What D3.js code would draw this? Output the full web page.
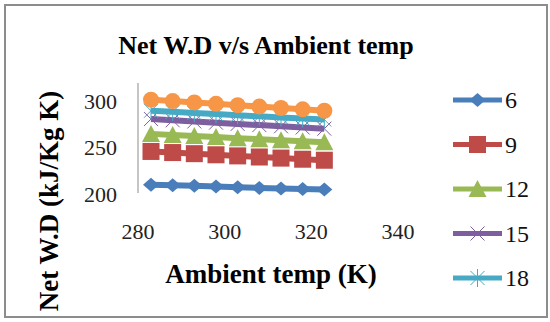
<!DOCTYPE html>
<html>
<head>
<meta charset="utf-8">
<script src="https://cdn.jsdelivr.net/npm/d3@7"></script>
<style>
  body { margin: 0; background: #fff; }
  svg { display: block; }
  svg text { font-family: "Liberation Serif", "Times New Roman", serif; }
</style>
</head>
<body>
<svg id="chart" width="550" height="322"></svg>
<script>
// ambient temperature (K)
var temps = [283, 288, 293, 298, 303, 308, 313, 318, 323];

// series names (legend) – the sixth one is clipped off in the legend
var seriesNames = ["6", "9", "12", "15", "18", "21"];

var s6  = [210, 209.5, 208.8, 208, 207.3, 206.6, 206, 205.4, 204.8];
var s9  = [246, 244.8, 243.6, 242.4, 241.2, 240, 238.8, 237.6, 236.5];
var s12 = [265, 263.8, 262.6, 261.5, 260.4, 259.3, 258.2, 257.1, 256];
var s15 = [281, 279.7, 278.4, 277.1, 275.8, 274.5, 273.2, 271.9, 270.6];
var s18 = [290, 288.8, 287.6, 286.4, 285.2, 284, 282.8, 281.6, 280.5];
var s21 = [302, 300.5, 299, 297.5, 296, 294.5, 293, 291.5, 290];

var xTicks = [280, 300, 320, 340];
var yTicks = [200, 250, 300];

var seriesValues = [s6, s9, s12, s15, s18, s21];
var colors  = ["#4a7ebb", "#be4b48", "#98b954", "#7d5fa0", "#46aac5", "#f79646"];
var markers = ["diamond", "square", "triangle", "x", "asterisk", "circle"];

var svg = d3.select("#chart");

// outer frame
svg.append("rect")
    .attr("x", 5).attr("y", 5)
    .attr("width", 542).attr("height", 312)
    .attr("fill", "#fff")
    .attr("stroke", "#8c8c8c")
    .attr("stroke-width", 2);

// title
svg.append("text")
    .attr("x", 266).attr("y", 54)
    .attr("text-anchor", "middle")
    .attr("font-weight", "bold")
    .attr("font-size", 26)
    .text("Net W.D v/s Ambient temp");

var x = d3.scaleLinear().domain([280, 340]).range([138, 398]);
var y = d3.scaleLinear().domain([200, 320]).range([194, 83]);

// y axis line
svg.append("line")
    .attr("x1", x(280)).attr("x2", x(280))
    .attr("y1", y(320)).attr("y2", y(200) - 1)
    .attr("stroke", "#8c8c8c")
    .attr("stroke-width", 1);

// y tick labels
svg.append("g").selectAll("text")
    .data(yTicks)
    .enter().append("text")
      .attr("x", 117)
      .attr("y", function(d) { return y(d); })
      .attr("dy", "0.35em")
      .attr("text-anchor", "end")
      .attr("font-size", 22)
      .attr("fill", "#222")
      .text(function(d) { return d; });

// x tick labels
svg.append("g").selectAll("text")
    .data(xTicks)
    .enter().append("text")
      .attr("x", function(d) { return x(d); })
      .attr("y", 231)
      .attr("dy", "0.35em")
      .attr("text-anchor", "middle")
      .attr("font-size", 22)
      .attr("fill", "#222")
      .text(function(d) { return d; });

// axis titles
svg.append("text")
    .attr("x", 271).attr("y", 283)
    .attr("text-anchor", "middle")
    .attr("font-weight", "bold")
    .attr("font-size", 27)
    .text("Ambient temp (K)");

svg.append("text")
    .attr("transform", "translate(58,201) rotate(-90)")
    .attr("text-anchor", "middle")
    .attr("font-weight", "bold")
    .attr("font-size", 27)
    .text("Net W.D (kJ/Kg K)");

function drawMarker(g, type, color) {
  if (type === "diamond") {
    g.append("path").attr("d", "M0,-7L8,0L0,7L-8,0Z").attr("fill", color);
  } else if (type === "square") {
    g.append("rect").attr("x", -8.5).attr("y", -8.5).attr("width", 17).attr("height", 17).attr("fill", color);
  } else if (type === "triangle") {
    g.append("path").attr("d", "M0,-9L9,8L-9,8Z").attr("fill", color);
  } else if (type === "circle") {
    g.append("circle").attr("r", 8).attr("fill", color);
  } else if (type === "x") {
    g.append("path").attr("d", "M-7,-7L7,7M-7,7L7,-7")
      .attr("stroke", color).attr("stroke-width", 1).attr("fill", "none");
  } else if (type === "asterisk") {
    g.append("path").attr("d", "M-7,-7L7,7M-7,7L7,-7M0,-9L0,9")
      .attr("stroke", color).attr("stroke-width", 1).attr("fill", "none");
  }
}

var line = d3.line()
    .x(function(d, i) { return x(temps[i]); })
    .y(function(d) { return y(d); });

// draw series
seriesValues.forEach(function(vals, si) {
  var g = svg.append("g");
  g.append("path")
      .attr("d", line(vals))
      .attr("fill", "none")
      .attr("stroke", colors[si])
      .attr("stroke-width", 6);
  vals.forEach(function(v, i) {
    var m = g.append("g").attr("transform", "translate(" + x(temps[i]) + "," + y(v) + ")");
    drawMarker(m, markers[si], colors[si]);
  });
});

// legend (only five entries visible)
var legend = svg.append("g").selectAll("g")
    .data(seriesNames.slice(0, 5))
    .enter().append("g")
      .attr("transform", function(d, i) { return "translate(453," + (100 + i * 44.5) + ")"; });

legend.append("line")
    .attr("x1", 0).attr("x2", 49)
    .attr("stroke", function(d, i) { return colors[i]; })
    .attr("stroke-width", 5);

legend.each(function(d, i) {
  var m = d3.select(this).append("g").attr("transform", "translate(24.5,0)");
  drawMarker(m, markers[i], colors[i]);
});

legend.append("text")
    .attr("x", 52)
    .attr("dy", "0.35em")
    .attr("font-size", 24)
    .attr("fill", "#111")
    .text(function(d) { return d; });
</script>
</body>
</html>
